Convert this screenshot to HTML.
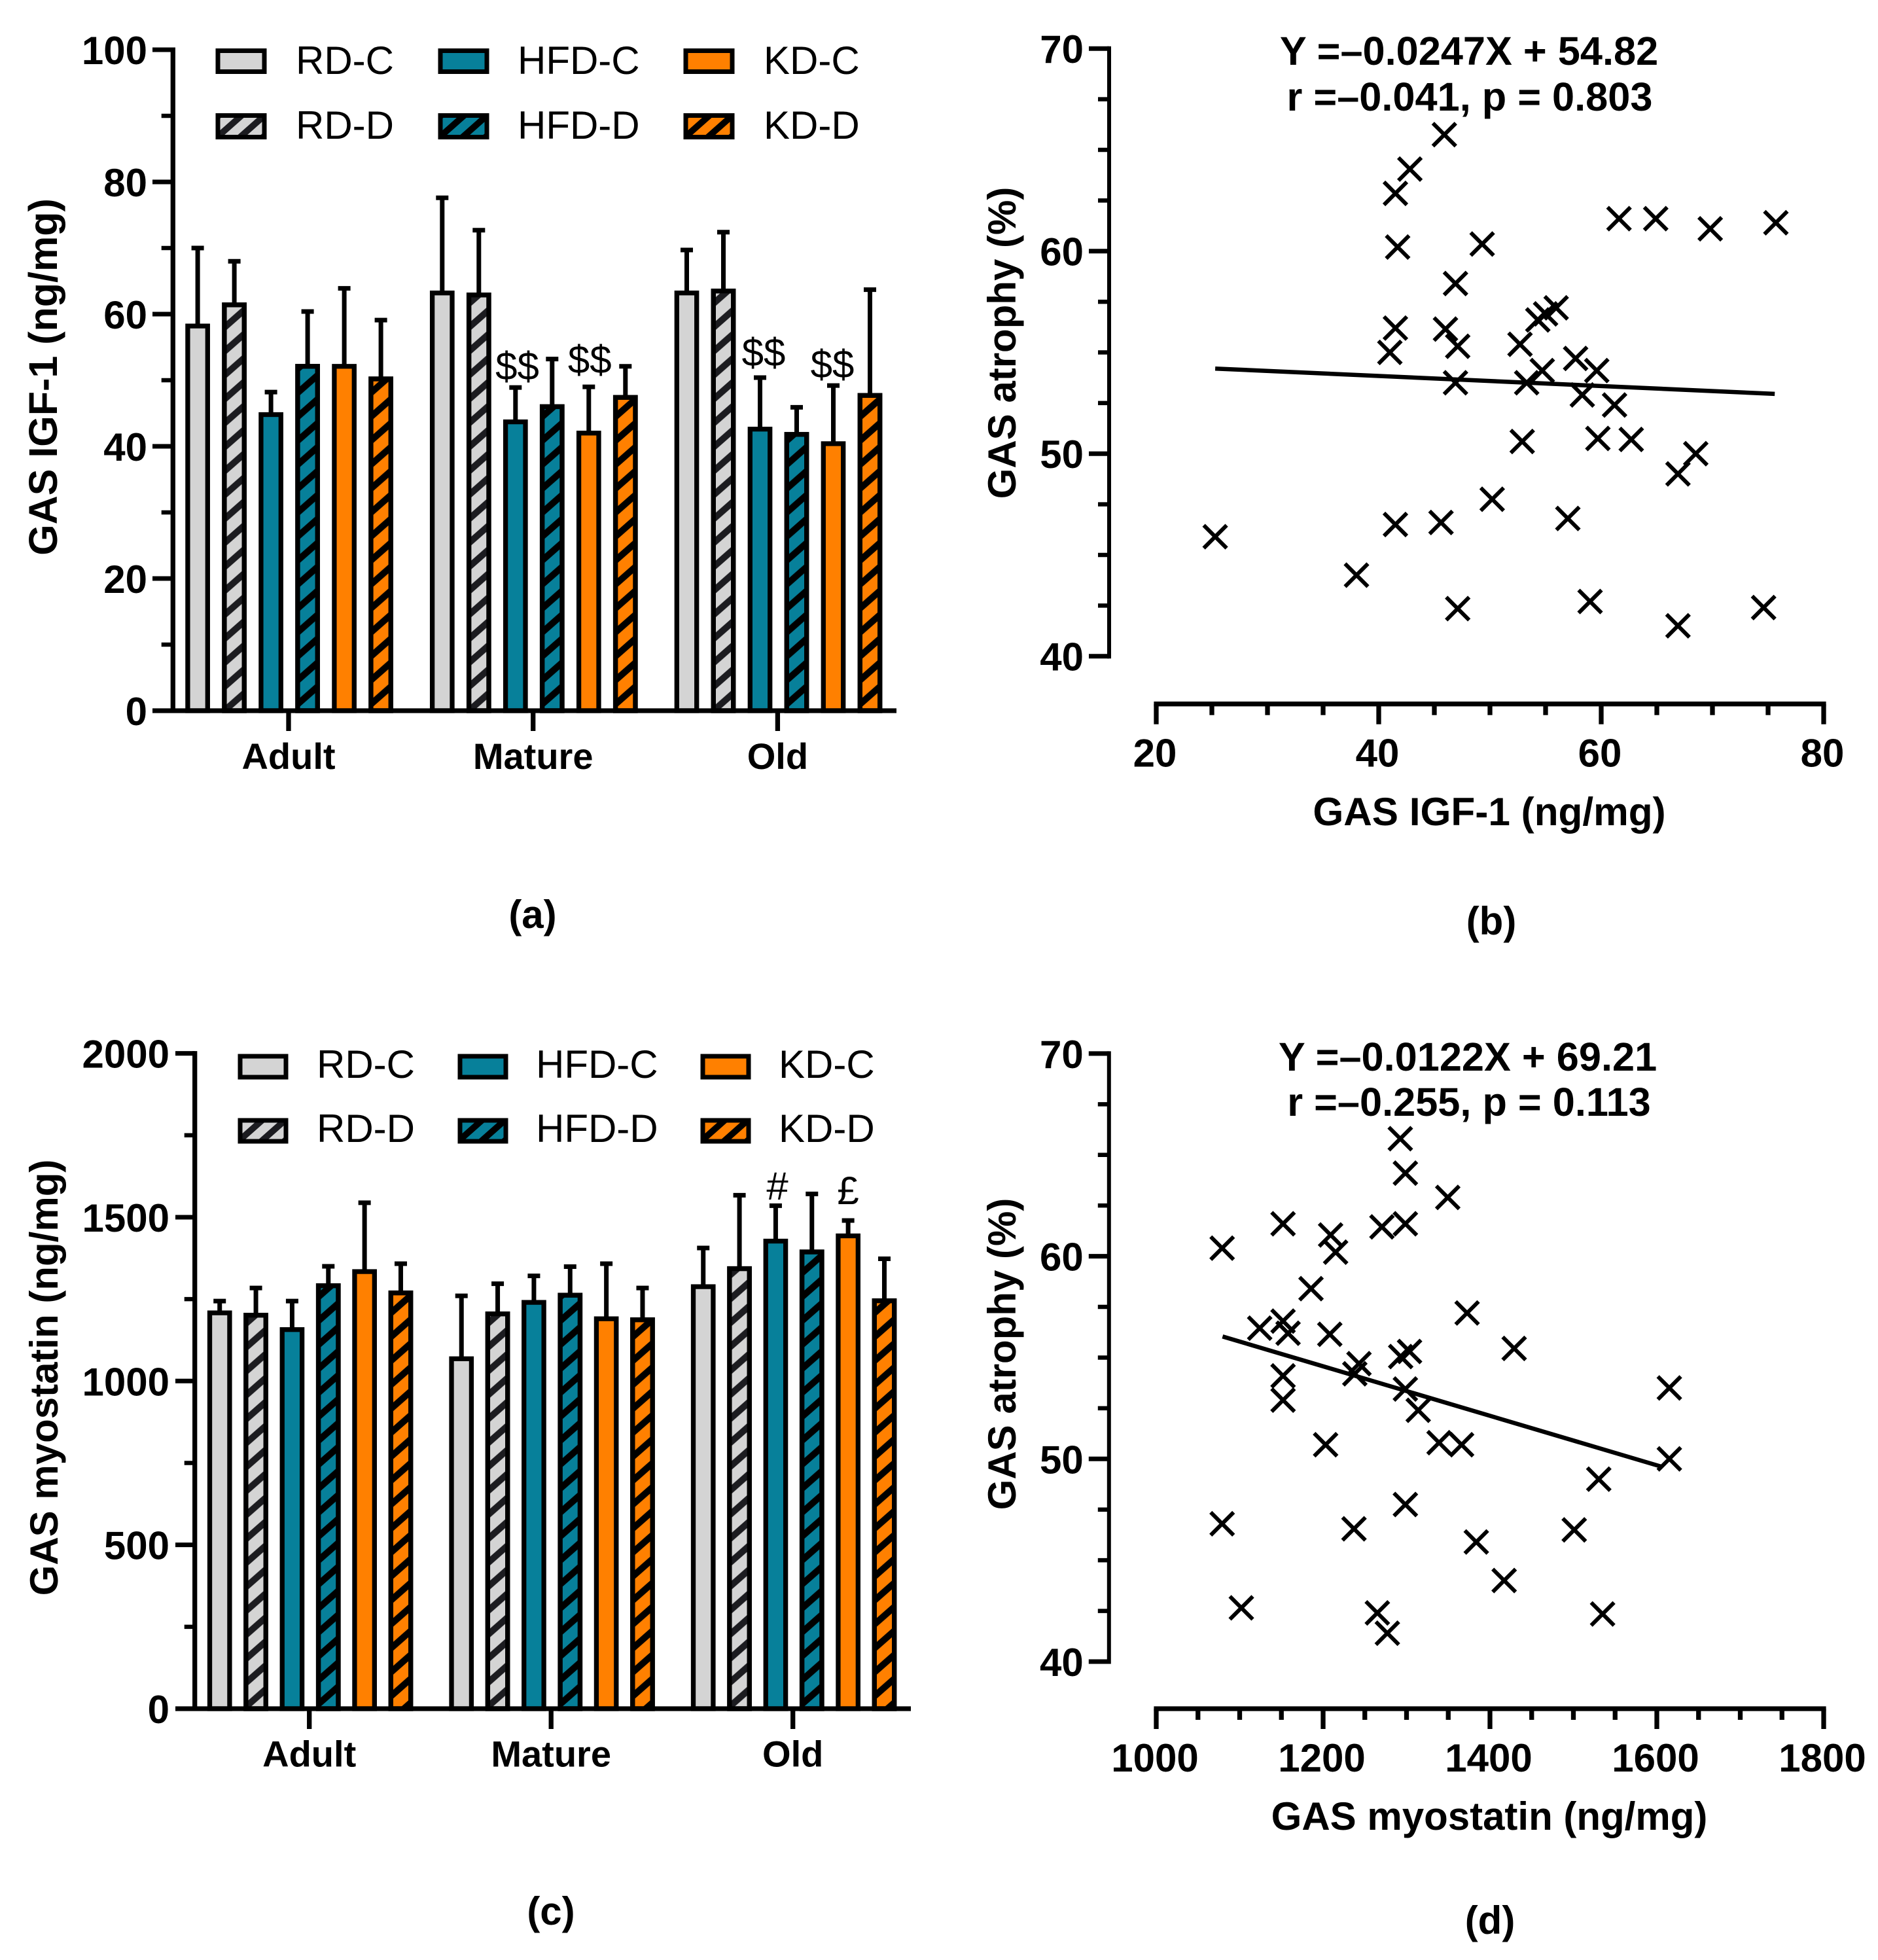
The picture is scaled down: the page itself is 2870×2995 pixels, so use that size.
<!DOCTYPE html>
<html lang="en">
<head>
<meta charset="utf-8">
<title>GAS IGF-1 and myostatin charts</title>
<style>
html,body{margin:0;padding:0;background:#fff;width:2870px;height:2995px;overflow:hidden}
svg{display:block}
text{font-family:"Liberation Sans",Arial,sans-serif;fill:#000}
.t{font-size:60px;font-weight:700}
.l{font-size:60px;font-weight:400}
.c{font-size:56px;font-weight:700;text-anchor:middle}
.m{text-anchor:middle}
.e{font-size:61.3px}
.p{font-size:60px}
</style>
</head>
<body>
<svg id="figure" xmlns="http://www.w3.org/2000/svg" width="2870" height="2995" viewBox="0 0 2870 2995">
  <defs>
    <pattern id="lg-gray" patternUnits="userSpaceOnUse" width="35" height="31" patternTransform="translate(337,205)"><g fill="#1c1c20"><polygon points="0,24.5 35,-6.5 35,6.5 0,37.5"/><polygon points="0,-6.5 35,-37.5 35,-24.5 0,6.5"/><polygon points="0,55.5 35,24.5 35,37.5 0,68.5"/></g></pattern>
    <pattern id="lg-teal" patternUnits="userSpaceOnUse" width="35" height="31" patternTransform="translate(677,205)"><g fill="#000"><polygon points="0,24.5 35,-6.5 35,6.5 0,37.5"/><polygon points="0,-6.5 35,-37.5 35,-24.5 0,6.5"/><polygon points="0,55.5 35,24.5 35,37.5 0,68.5"/></g></pattern>
    <pattern id="lg-orange" patternUnits="userSpaceOnUse" width="35" height="31" patternTransform="translate(1052,205)"><g fill="#000"><polygon points="0,24.5 35,-6.5 35,6.5 0,37.5"/><polygon points="0,-6.5 35,-37.5 35,-24.5 0,6.5"/><polygon points="0,55.5 35,24.5 35,37.5 0,68.5"/></g></pattern>
    <pattern id="lg2-gray" patternUnits="userSpaceOnUse" width="35" height="31" patternTransform="translate(371,1738)"><g fill="#1c1c20"><polygon points="0,24.5 35,-6.5 35,6.5 0,37.5"/><polygon points="0,-6.5 35,-37.5 35,-24.5 0,6.5"/><polygon points="0,55.5 35,24.5 35,37.5 0,68.5"/></g></pattern>
    <pattern id="lg2-teal" patternUnits="userSpaceOnUse" width="35" height="31" patternTransform="translate(707,1738)"><g fill="#000"><polygon points="0,24.5 35,-6.5 35,6.5 0,37.5"/><polygon points="0,-6.5 35,-37.5 35,-24.5 0,6.5"/><polygon points="0,55.5 35,24.5 35,37.5 0,68.5"/></g></pattern>
    <pattern id="lg2-orange" patternUnits="userSpaceOnUse" width="35" height="31" patternTransform="translate(1078,1738)"><g fill="#000"><polygon points="0,24.5 35,-6.5 35,6.5 0,37.5"/><polygon points="0,-6.5 35,-37.5 35,-24.5 0,6.5"/><polygon points="0,55.5 35,24.5 35,37.5 0,68.5"/></g></pattern>
  </defs>

  <g id="panel-a">
    <text class="t m" style="font-size:61px" transform="translate(87,576) rotate(-90)">GAS IGF-1 (ng/mg)</text>
    <g stroke="#000" stroke-width="7">
      <rect x="333" y="77.5" width="71" height="32" fill="#d4d4d4"/>
      <rect x="673" y="77.5" width="71" height="32" fill="#07809a"/>
      <rect x="1048" y="77.5" width="71" height="32" fill="#ff8000"/>
      <g><rect x="333" y="176.5" width="71" height="33" fill="#d4d4d4"/><rect x="333" y="176.5" width="71" height="33" fill="url(#lg-gray)"/></g>
      <g><rect x="673" y="176.5" width="71" height="33" fill="#07809a"/><rect x="673" y="176.5" width="71" height="33" fill="url(#lg-teal)"/></g>
      <g><rect x="1048" y="176.5" width="71" height="33" fill="#ff8000"/><rect x="1048" y="176.5" width="71" height="33" fill="url(#lg-orange)"/></g>
    </g>
    <text class="l" x="452" y="113">RD-C</text>
    <text class="l" x="452" y="212">RD-D</text>
    <text class="l" x="791" y="113">HFD-C</text>
    <text class="l" x="791" y="212">HFD-D</text>
    <text class="l" x="1167" y="113">KD-C</text>
    <text class="l" x="1167" y="212">KD-D</text>
    <text class="l m" x="790.5" y="580">$$</text>
    <text class="l m" x="901.3" y="570">$$</text>
    <text class="l m" x="1167" y="559">$$</text>
    <text class="l m" x="1272" y="577">$$</text>
    <text class="t m p" x="814" y="1418">(a)</text>
  </g>

  <g id="panel-b">
    <text class="t m" transform="translate(1552,524) rotate(-90)">GAS atrophy (%)</text>
    <text class="t m" style="font-size:60.3px" x="2276" y="1261">GAS IGF-1 (ng/mg)</text>
    <text class="t m e" x="2245" y="99">Y =–0.0247X + 54.82</text>
    <text class="t m e" x="2246" y="169">r =–0.041, p = 0.803</text>
    <text class="t m p" x="2279" y="1428">(b)</text>
  </g>

  <g id="panel-c">
    <text class="t m" transform="translate(88,2105) rotate(-90)">GAS myostatin (ng/mg)</text>
    <g stroke="#000" stroke-width="7">
      <rect x="367" y="1614" width="70" height="32" fill="#d4d4d4"/>
      <rect x="703" y="1614" width="70" height="32" fill="#07809a"/>
      <rect x="1074" y="1614" width="70" height="32" fill="#ff8000"/>
      <g><rect x="367" y="1712" width="70" height="32" fill="#d4d4d4"/><rect x="367" y="1712" width="70" height="32" fill="url(#lg2-gray)"/></g>
      <g><rect x="703" y="1712" width="70" height="32" fill="#07809a"/><rect x="703" y="1712" width="70" height="32" fill="url(#lg2-teal)"/></g>
      <g><rect x="1074" y="1712" width="70" height="32" fill="#ff8000"/><rect x="1074" y="1712" width="70" height="32" fill="url(#lg2-orange)"/></g>
    </g>
    <text class="l" x="484" y="1647">RD-C</text>
    <text class="l" x="484" y="1745">RD-D</text>
    <text class="l" x="819" y="1647">HFD-C</text>
    <text class="l" x="819" y="1745">HFD-D</text>
    <text class="l" x="1190" y="1647">KD-C</text>
    <text class="l" x="1190" y="1745">KD-D</text>
    <text class="l m" x="1188" y="1833">#</text>
    <text class="l m" x="1296" y="1840">£</text>
    <text class="t m p" x="842" y="2941">(c)</text>
  </g>

  <g id="panel-d">
    <text class="t m" transform="translate(1552,2069) rotate(-90)">GAS atrophy (%)</text>
    <text class="t m" x="2276" y="2796">GAS myostatin (ng/mg)</text>
    <text class="t m e" x="2243" y="1636">Y =–0.0122X + 69.21</text>
    <text class="t m e" x="2245" y="1705">r =–0.255, p = 0.113</text>
    <text class="t m p" x="2277" y="2955">(d)</text>
  </g>
</svg>

<script>
// ---------- Panel (a) data ----------
const igfCategories = ['Adult', 'Mature', 'Old'];
const igfTickLabels = [0, 20, 40, 60, 80, 100];
const igfRdC = [58.2, 63.2, 63.2];
const igfRdD = [61.4, 62.9, 63.5];
const igfHfdC = [44.8, 43.7, 42.6];
const igfHfdD = [52.1, 46.0, 41.8];
const igfKdC = [52.1, 42.0, 40.4];
const igfKdD = [50.2, 47.4, 47.7];
const igfRdCUpper = [70.0, 77.6, 69.7];
const igfRdDUpper = [68.0, 72.7, 72.4];
const igfHfdCUpper = [48.2, 48.9, 50.4];
const igfHfdDUpper = [60.4, 53.2, 45.9];
const igfKdCUpper = [63.9, 49.0, 49.2];
const igfKdDUpper = [59.1, 52.1, 63.7];

// ---------- Panel (c) data ----------
const myoCategories = ['Adult', 'Mature', 'Old'];
const myoTickLabels = [0, 500, 1000, 1500, 2000];
const myoRdC = [1208, 1068, 1288];
const myoRdD = [1201, 1205, 1343];
const myoHfdC = [1157, 1240, 1427];
const myoHfdD = [1291, 1262, 1394];
const myoKdC = [1334, 1190, 1443];
const myoKdD = [1269, 1187, 1245];
const myoRdCUpper = [1244, 1260, 1406];
const myoRdDUpper = [1284, 1297, 1567];
const myoHfdCUpper = [1244, 1321, 1535];
const myoHfdDUpper = [1350, 1349, 1571];
const myoKdCUpper = [1544, 1358, 1490];
const myoKdDUpper = [1358, 1284, 1373];

// ---------- Panel (b) data ----------
const scatterBX = [25.3, 38.0, 41.5, 45.6, 50.2, 57.0, 47.1, 59.0, 66.9, 74.6, 66.9, 68.5, 52.9, 59.7, 62.7, 61.2, 58.3, 59.6, 57.7, 54.7, 53.3, 46.9, 47.1, 46.0, 41.0, 41.5, 52.7, 54.3, 55.0, 55.95, 46.9, 41.7, 49.3, 41.5, 42.8, 45.9, 61.6, 64.9, 69.8, 75.7];
const scatterBY = [45.9, 44.0, 46.5, 46.6, 47.75, 46.8, 42.35, 42.7, 41.5, 42.4, 49.0, 50.0, 50.6, 50.75, 50.7, 52.4, 52.9, 54.1, 54.7, 54.1, 53.5, 53.5, 55.3, 56.15, 55.0, 56.2, 55.4, 56.6, 56.9, 57.2, 58.4, 60.2, 60.35, 62.85, 64.05, 65.75, 61.6, 61.6, 61.1, 61.4];
const trendBX = [25.3, 75.6];
const trendBY = [54.2, 52.95];
const scatterBXTicks = [20, 40, 60, 80];
const scatterBYTicks = [40, 50, 60, 70];

// ---------- Panel (d) data ----------
const scatterDX = [1079, 1079, 1102, 1124, 1152, 1152, 1158, 1152, 1152, 1185.5, 1203, 1208, 1209, 1215, 1237, 1238, 1243, 1265, 1277, 1270.5, 1292.5, 1298.6, 1298.6, 1293, 1303.6, 1298.6, 1314, 1298.6, 1339, 1366, 1349.4, 1372.6, 1383.6, 1417, 1429, 1501, 1530.4, 1535, 1615, 1615];
const scatterDY = [60.4, 46.8, 42.65, 56.45, 61.6, 56.8, 56.2, 54.1, 52.9, 58.4, 50.7, 56.15, 61.05, 60.2, 46.55, 54.2, 54.7, 42.4, 41.4, 61.45, 65.8, 64.1, 61.6, 55.05, 55.3, 53.45, 52.4, 47.75, 50.8, 50.7, 62.9, 57.2, 45.9, 44.0, 55.45, 46.5, 49.0, 42.35, 53.5, 50.0];
const trendDX = [1079.5, 1607];
const trendDY = [56.04, 49.6];
const scatterDXTicks = [1000, 1200, 1400, 1600, 1800];
const scatterDYTicks = [40, 50, 60, 70];

const SVG_NS = document.querySelector('#figure').namespaceURI;
const GRAY = '#d4d4d4', TEAL = '#07809a', ORANGE = '#ff8000';

function mk(tag, attrs, parent) {
  const n = document.createElementNS(SVG_NS, tag);
  for (const k in attrs) n.setAttribute(k, attrs[k]);
  parent.appendChild(n);
  return n;
}

const defsEl = document.querySelector('#figure defs');
let patternCount = 0;

function hatchPattern(id, originX, originY, ink) {
  const w = 41.6, h = 36.6, t = 6.7;
  const p = mk('pattern', {id: id, patternUnits: 'userSpaceOnUse', width: w, height: h,
    patternTransform: 'translate(' + originX + ',' + originY + ')'}, defsEl);
  for (const k of [-1, 0, 1]) {
    const o = k * h;
    mk('polygon', {fill: ink, points:
      '0,' + (h - t + o) + ' ' + w + ',' + (-t + o) + ' ' + w + ',' + (t + o) + ' 0,' + (h + t + o)}, p);
  }
}

function drawYAxis(g, o) {
  const axis = mk('line', {x1: o.x, x2: o.x, y1: o.y(o.top) - 3.5, y2: o.y(o.bottom) + 3.5, stroke: '#000', 'stroke-width': o.sw}, g);
  
  
  for (let v = o.bottom; v <= o.top + 1e-6; v += o.minorStep) {
    const isMajor = o.labels.indexOf(v) >= 0;
    const tick = mk('line', {x1: isMajor ? o.majorLeft : o.minorLeft, x2: o.x, y1: o.y(v), y2: o.y(v), stroke: '#000', 'stroke-width': isMajor ? 7 : 6.5}, g);
    
    
  }
  for (const v of o.labels) {
    const tx = mk('text', {x: o.labelX, y: o.y(v) + 22, 'text-anchor': 'end', class: 't'}, g);
    tx.textContent = String(v);
    
    
  }
}

function drawBars(gId, o) {
  const g = document.getElementById(gId);
  const y = v => o.y0 - v * o.k;
  const group = i => o.tick0 + i * o.groupStep;
  const barX = (i, j) => group(i) + (j - 2.5) * o.barStep + o.barShift;

  o.series.forEach(function (s, j) {
    s.values.forEach(function (val, i) {
      const cx = barX(i, j), top = y(val), errTop = y(s.upper[i]);
      const whisker = mk('line', {x1: cx, x2: cx, y1: top, y2: errTop, stroke: '#000', 'stroke-width': 7}, g);
      
      
      const cap = mk('line', {x1: cx - 9.5, x2: cx + 9.5, y1: errTop, y2: errTop, stroke: '#000', 'stroke-width': 7}, g);
      
      
      const bw = 30.4;
      const bar = mk('rect', {x: cx - bw / 2, y: top, width: bw, height: o.y0 - top, fill: s.color, stroke: '#000', 'stroke-width': 7.3}, g);
      
      
      if (s.hatch) {
        const id = 'hatch-' + (patternCount++);
        hatchPattern(id, cx - bw / 2, o.y0 - s.phase, s.hatch);
        const over = mk('rect', {x: cx - bw / 2, y: top, width: bw, height: o.y0 - top, fill: 'url(#' + id + ')', stroke: '#000', 'stroke-width': 7.3}, g);
        
        
      }
    });
  });

  drawYAxis(g, {x: o.axisX, y: y, top: o.top, bottom: 0, minorStep: o.minorStep, labels: o.labels,
    majorLeft: o.majorLeft, minorLeft: o.minorLeft, labelX: o.labelX, sw: 7.3});

  const xAxis = mk('line', {x1: o.majorLeft, x2: o.xEnd, y1: o.y0, y2: o.y0, stroke: '#000', 'stroke-width': 7.3}, g);
  
  
  o.categories.forEach(function (c, i) {
    const t = mk('line', {x1: group(i), x2: group(i), y1: o.y0, y2: o.y0 + 31, stroke: '#000', 'stroke-width': 7.3}, g);
    
    
    const lab = mk('text', {x: group(i), y: o.labelY, class: 'c'}, g);
    lab.textContent = c;
    
    
  });
}

function drawScatter(gId, o) {
  const g = document.getElementById(gId);
  const sx = v => o.x0 + (v - o.xMin) * o.kx;
  const sy = v => o.yBase - (v - o.yMin) * o.ky;

  drawYAxis(g, {x: o.axisX, y: sy, top: o.yMax, bottom: o.yMin, minorStep: 2.5, labels: o.yTicks,
    majorLeft: o.axisX - 31, minorLeft: o.axisX - 17, labelX: o.axisX - 39, sw: 6});

  const xAxis = mk('line', {x1: sx(o.xMin) - 3.6, x2: sx(o.xMax) + 3.6, y1: o.axisY, y2: o.axisY, stroke: '#000', 'stroke-width': 7.3}, g);
  
  
  for (let v = o.xMin; v <= o.xMax + 1e-6; v += o.xMinorStep) {
    const isMajor = o.xTicks.indexOf(v) >= 0;
    const t = mk('line', {x1: sx(v), x2: sx(v), y1: o.axisY, y2: o.axisY + (isMajor ? 31 : 17), stroke: '#000', 'stroke-width': 7.3}, g);
    
    
  }
  for (const v of o.xTicks) {
    const lab = mk('text', {x: sx(v) - 2, y: o.axisY + 96, class: 't m'}, g);
    lab.textContent = String(v);
    
    
  }

  const trend = mk('line', {x1: sx(o.trendX[0]), y1: sy(o.trendY[0]), x2: sx(o.trendX[1]), y2: sy(o.trendY[1]), stroke: '#000', 'stroke-width': 6.5}, g);
  
  

  const r = 17.5;
  o.xs.forEach(function (xv, i) {
    const cx = sx(xv), cy = sy(o.ys[i]);
    const pt = mk('path', {d: 'M' + (cx - r) + ' ' + (cy - r) + 'L' + (cx + r) + ' ' + (cy + r) + 'M' + (cx - r) + ' ' + (cy + r) + 'L' + (cx + r) + ' ' + (cy - r), stroke: '#000', 'stroke-width': 6, fill: 'none'}, g);
    
    
  });
}

drawBars('panel-a', {
  categories: igfCategories, labels: igfTickLabels,
  y0: 1086, k: 10.1, top: 100, minorStep: 10,
  tick0: 441, groupStep: 373.7, barStep: 56, barShift: 1.1,
  axisX: 264.3, majorLeft: 233, minorLeft: 246.7, labelX: 225, xEnd: 1370, labelY: 1175,
  series: [
    {name: 'rd-c', color: GRAY, values: igfRdC, upper: igfRdCUpper},
    {name: 'rd-d', color: GRAY, hatch: '#1c1c20', phase: 0, values: igfRdD, upper: igfRdDUpper},
    {name: 'hfd-c', color: TEAL, values: igfHfdC, upper: igfHfdCUpper},
    {name: 'hfd-d', color: TEAL, hatch: '#000', phase: 10, values: igfHfdD, upper: igfHfdDUpper},
    {name: 'kd-c', color: ORANGE, values: igfKdC, upper: igfKdCUpper},
    {name: 'kd-d', color: ORANGE, hatch: '#000', phase: 10, values: igfKdD, upper: igfKdDUpper}
  ]
});

drawBars('panel-c', {
  categories: myoCategories, labels: myoTickLabels,
  y0: 2611, k: 0.5007, top: 2000, minorStep: 250,
  tick0: 472.7, groupStep: 369.5, barStep: 55.35, barShift: 1.4,
  axisX: 297.7, majorLeft: 268, minorLeft: 281.7, labelX: 259, xEnd: 1392, labelY: 2699.3,
  series: [
    {name: 'rd-c', color: GRAY, values: myoRdC, upper: myoRdCUpper},
    {name: 'rd-d', color: GRAY, hatch: '#1c1c20', phase: 3, values: myoRdD, upper: myoRdDUpper},
    {name: 'hfd-c', color: TEAL, values: myoHfdC, upper: myoHfdCUpper},
    {name: 'hfd-d', color: TEAL, hatch: '#000', phase: 7, values: myoHfdD, upper: myoHfdDUpper},
    {name: 'kd-c', color: ORANGE, values: myoKdC, upper: myoKdCUpper},
    {name: 'kd-d', color: ORANGE, hatch: '#000', phase: 19, values: myoKdD, upper: myoKdDUpper}
  ]
});

drawScatter('panel-b', {
  xs: scatterBX, ys: scatterBY, trendX: trendBX, trendY: trendBY,
  xTicks: scatterBXTicks, yTicks: scatterBYTicks,
  x0: 1767, xMin: 20, xMax: 80, kx: 17, xMinorStep: 5,
  yBase: 1002.7, yMin: 40, yMax: 70, ky: 30.95,
  axisX: 1695, axisY: 1075.7
});

drawScatter('panel-d', {
  xs: scatterDX, ys: scatterDY, trendX: trendDX, trendY: trendDY,
  xTicks: scatterDXTicks, yTicks: scatterDYTicks,
  x0: 1767, xMin: 1000, xMax: 1800, kx: 1.275, xMinorStep: 50,
  yBase: 2539, yMin: 40, yMax: 70, ky: 30.97,
  axisX: 1694.8, axisY: 2611
});
</script>
</body>
</html>
